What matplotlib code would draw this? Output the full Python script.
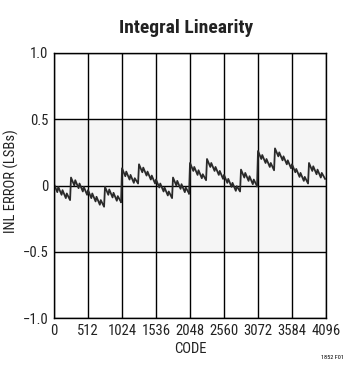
import matplotlib
matplotlib.use("Agg")
import matplotlib.pyplot as plt
from matplotlib import font_manager

# tooth vertex offsets inside one 1024-code block (peak, trough, peak, trough ...)
tooth_codes = [0, 50, 64, 114, 128, 178, 192, 242, 256, 306, 320, 370, 384, 434, 448, 498,
               512, 562, 576, 626, 640, 690, 704, 754, 768, 818, 832, 882, 896, 946, 960, 1010]
block_starts = [0, 1024, 2048, 3072]

# INL (LSBs) at those vertices, one list per 1024-code block
inl_block1 = [0.01, -0.05, -0.01, -0.07, -0.035, -0.095, -0.06, -0.11,
              0.06, 0.0, 0.04, -0.02, 0.015, -0.045, -0.01, -0.07,
              -0.035, -0.095, -0.06, -0.12, -0.085, -0.145, -0.11, -0.16,
              -0.01, -0.07, -0.03, -0.09, -0.055, -0.115, -0.08, -0.125]
inl_block2 = [0.13, 0.07, 0.105, 0.045, 0.08, 0.02, 0.055, 0.015,
              0.16, 0.10, 0.135, 0.075, 0.105, 0.045, 0.075, 0.015,
              0.045, -0.015, 0.015, -0.045, -0.015, -0.075, -0.045, -0.095,
              0.06, 0.0, 0.035, -0.025, 0.01, -0.05, -0.015, -0.06]
inl_block3 = [0.17, 0.11, 0.14, 0.08, 0.115, 0.055, 0.085, 0.04,
              0.20, 0.14, 0.17, 0.11, 0.14, 0.08, 0.11, 0.05,
              0.08, 0.02, 0.05, -0.01, 0.02, -0.04, -0.005, -0.045,
              0.12, 0.06, 0.095, 0.035, 0.07, 0.01, 0.045, -0.005]
inl_block4 = [0.26, 0.20, 0.23, 0.17, 0.20, 0.14, 0.17, 0.115,
              0.28, 0.22, 0.25, 0.19, 0.22, 0.16, 0.19, 0.13,
              0.16, 0.10, 0.125, 0.065, 0.095, 0.035, 0.065, 0.015,
              0.17, 0.11, 0.145, 0.085, 0.12, 0.06, 0.095, 0.05]

x_ticks = [0, 512, 1024, 1536, 2048, 2560, 3072, 3584, 4096]
y_ticks = [-1.0, -0.5, 0, 0.5, 1.0]
y_labels = ["\u22121.0", "\u22120.5", "0", "0.5", "1.0"]

names = {f.name for f in font_manager.fontManager.ttflist}
narrow = [n for n in ["Liberation Sans Narrow", "Roboto Condensed", "Open Sans Condensed"] if n in names]
font = narrow + ["Roboto", "DejaVu Sans"]

fig = plt.figure(figsize=(3.53, 3.69), dpi=100)
ax = fig.add_axes([0.153, 0.138, 0.7705, 0.7185])

# light band between +-0.5
ax.axhspan(-0.5, 0.5, color="#f5f5f5", zorder=0)

for xt in x_ticks:
    ax.axvline(xt, color="black", lw=1.0, zorder=1)
for yt in y_ticks:
    ax.axhline(yt, color="black", lw=1.0, zorder=1)

prev_last = None
for start, vals in zip(block_starts, [inl_block1, inl_block2, inl_block3, inl_block4]):
    codes = [start + c for c in tooth_codes]
    if prev_last is not None:
        codes = [start - 14] + codes
        vals = [prev_last] + vals
    ax.plot(codes, vals, color="#2a2a2a", lw=1.3, zorder=2)
    prev_last = vals[-1]

ax.set_xlim(0, 4096)
ax.set_ylim(-1, 1)
ax.set_xticks(x_ticks)
ax.set_xticklabels([str(t) for t in x_ticks], family=font, fontsize=10.5, stretch="condensed")
ax.set_yticks(y_ticks)
ax.set_yticklabels(y_labels, family=font, fontsize=10.5, stretch="condensed")
ax.tick_params(length=0, pad=4, colors="#222222")
for s in ax.spines.values():
    s.set_linewidth(1.0)

ax.set_xlabel("CODE", family=font, fontsize=10.5, labelpad=3, stretch="condensed", color="#222222")
fig.text(11 / 353, 1 - 181 / 369, "INL ERROR (LSBs)", family=font, fontsize=10.5,
         rotation=90, ha="center", va="center", stretch="condensed", color="#222222")
fig.text(0.528, 0.925, "Integral Linearity", family=font, fontsize=14,
         fontweight="bold", ha="center", va="center", stretch="condensed", color="#222222")
fig.text(0.975, 0.032, "1852 F01", family=font, fontsize=4.5, ha="right", va="center",
         stretch="condensed")

fig.savefig("out.png", dpi=100)
